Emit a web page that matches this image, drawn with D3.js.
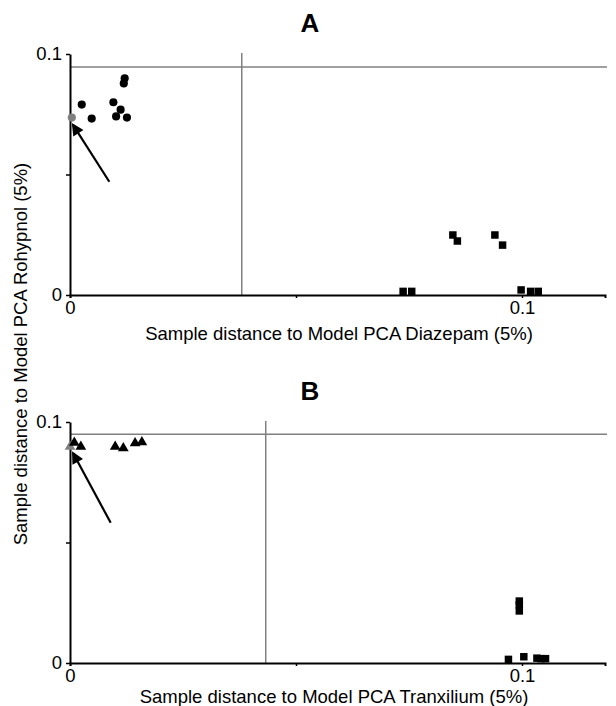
<!DOCTYPE html>
<html>
<head>
<meta charset="utf-8">
<script src="https://cdn.jsdelivr.net/npm/d3@7"></script>
<style>
  body { margin: 0; background: #fff; }
  text { font-family: Arial, "Liberation Sans", sans-serif; }
</style>
</head>
<body>
<div id="chart-container"></div>
<script>
let width = 616;
let height = 706;

// panel A: Rohypnol (y) vs Diazepam (x)
let circlesAx = [0.0004, 0.0026, 0.0048, 0.0096, 0.0112, 0.0102, 0.0126, 0.0121, 0.0119];
let circlesAy = [0.0736, 0.0790, 0.0732, 0.0800, 0.0769, 0.0741, 0.0736, 0.0899, 0.0878];
let squaresAx = [0.0847, 0.0857, 0.0940, 0.0957, 0.0737, 0.0756, 0.0998, 0.1019, 0.1036];
let squaresAy = [0.0249, 0.0224, 0.0249, 0.0207, 0.0015, 0.0015, 0.0021, 0.0015, 0.0015];
let limitsA = [0.0380, 0.0946]; // [x limit, y limit]
let arrowA = [0.0087, 0.0470, 0.0007, 0.0705];

// panel B: Rohypnol (y) vs Tranxilium (x)
let trianglesBx = [0.0000, 0.00095, 0.0024, 0.0100, 0.0118, 0.0144, 0.0159];
let trianglesBy = [0.0898, 0.0914, 0.0898, 0.0898, 0.0891, 0.0912, 0.0916];
let squaresBx = [0.0994, 0.0994, 0.0994, 0.0970, 0.1004, 0.1033, 0.1042, 0.1052];
let squaresBy = [0.0257, 0.0241, 0.0216, 0.0015, 0.0026, 0.0020, 0.0018, 0.0018];
let limitsB = [0.0433, 0.0949];
let arrowB = [0.0090, 0.0582, 0.0007, 0.0870];

let xTicks = [0, 0.05, 0.1];
let xTickLabels = ["0", "", "0.1"];
let yTicks = [0, 0.05, 0.1];
let yTickLabels = ["0", "", "0.1"];

var svg = d3
  .select("#chart-container")
  .append("svg")
  .attr("width", width)
  .attr("height", height);

svg.append("defs")
  .append("marker")
  .attr("id", "arrowhead")
  .attr("viewBox", "0 0 10 10")
  .attr("refX", 8)
  .attr("refY", 5)
  .attr("markerWidth", 6)
  .attr("markerHeight", 5.5)
  .attr("orient", "auto")
  .append("path")
  .attr("d", "M0,0 L10,5 L0,10 z")
  .attr("fill", "#000");

function drawPanel(opts) {
  let xScale = d3.scaleLinear().domain([0, 0.11836]).range([70, 605]);
  let yScale = d3.scaleLinear().domain([0, 0.1]).range([opts.bottom, opts.bottom - 241]);

  let g = svg.append("g");

  // title
  g.append("text")
    .attr("x", 310)
    .attr("y", opts.bottom - 263)
    .attr("text-anchor", "middle")
    .style("font-size", "26px")
    .style("font-weight", "bold")
    .text(opts.title);

  // threshold lines
  g.append("line")
    .attr("x1", xScale(0)).attr("x2", 607)
    .attr("y1", yScale(opts.limits[1])).attr("y2", yScale(opts.limits[1]))
    .attr("stroke", "#808080").attr("stroke-width", 1.5);
  g.append("line")
    .attr("x1", xScale(opts.limits[0])).attr("x2", xScale(opts.limits[0]))
    .attr("y1", yScale(0.1) - 1).attr("y2", yScale(0))
    .attr("stroke", "#808080").attr("stroke-width", 1.5);

  // axes
  let xAxis = g.append("g")
    .attr("transform", "translate(0," + opts.bottom + ")")
    .call(d3.axisBottom(xScale).tickValues(xTicks)
      .tickFormat((d, i) => xTickLabels[i]).tickSize(3).tickSizeOuter(3));
  let yAxis = g.append("g")
    .attr("transform", "translate(70,0)")
    .call(d3.axisLeft(yScale).tickValues(yTicks)
      .tickFormat((d, i) => yTickLabels[i]).tickSize(4).tickSizeOuter(0));

  [xAxis, yAxis].forEach((a) => {
    a.select(".domain").attr("stroke", "#000").attr("stroke-width", 2);
    a.selectAll(".tick line").attr("stroke", "#000").attr("stroke-width", 1.5);
    a.selectAll(".tick text")
      .attr("fill", "#000")
      .style("font-size", "18.5px")
      .style("font-family", "Arial, 'Liberation Sans', sans-serif");
  });
  xAxis.selectAll(".tick text").attr("y", 6);
  yAxis.selectAll(".tick text").attr("x", -8);

  // x label
  g.append("text")
    .attr("x", opts.labelX)
    .attr("y", opts.bottom + opts.labelDy)
    .attr("text-anchor", "middle")
    .style("font-size", "18.5px")
    .text(opts.xLabel);

  // markers
  opts.series.forEach((s) => {
    g.append("g")
      .selectAll("path")
      .data(s.xs.map((x, i) => [x, s.ys[i]]))
      .enter()
      .append("path")
      .attr("d", d3.symbol().type(s.type).size(s.size))
      .attr("transform", (d) => "translate(" + xScale(d[0]) + "," + yScale(d[1]) + ")")
      .attr("fill", (d, i) => (s.firstGray && i === 0 ? "#808080" : "#000"));
  });

  // arrow pointing at the reference sample
  g.append("line")
    .attr("x1", xScale(opts.arrow[0])).attr("y1", yScale(opts.arrow[1]))
    .attr("x2", xScale(opts.arrow[2])).attr("y2", yScale(opts.arrow[3]))
    .attr("stroke", "#000").attr("stroke-width", 2.2)
    .attr("marker-end", "url(#arrowhead)");
}

drawPanel({
  title: "A",
  bottom: 295,
  limits: limitsA,
  arrow: arrowA,
  xLabel: "Sample distance to Model PCA Diazepam (5%)",
  labelX: 339,
  labelDy: 45,
  series: [
    { xs: circlesAx, ys: circlesAy, type: d3.symbolCircle, size: 52, firstGray: true },
    { xs: squaresAx, ys: squaresAy, type: d3.symbolSquare, size: 56, firstGray: false },
  ],
});

drawPanel({
  title: "B",
  bottom: 663,
  limits: limitsB,
  arrow: arrowB,
  xLabel: "Sample distance to Model PCA Tranxilium (5%)",
  labelX: 334,
  labelDy: 40,
  series: [
    { xs: trianglesBx, ys: trianglesBy, type: d3.symbolTriangle, size: 50, firstGray: true },
    { xs: squaresBx, ys: squaresBy, type: d3.symbolSquare, size: 56, firstGray: false },
  ],
});

// shared y label
svg.append("text")
  .attr("transform", "translate(27,354) rotate(-90)")
  .attr("text-anchor", "middle")
  .style("font-size", "18.5px")
  .text("Sample distance to Model PCA Rohypnol (5%)");
</script>
</body>
</html>
